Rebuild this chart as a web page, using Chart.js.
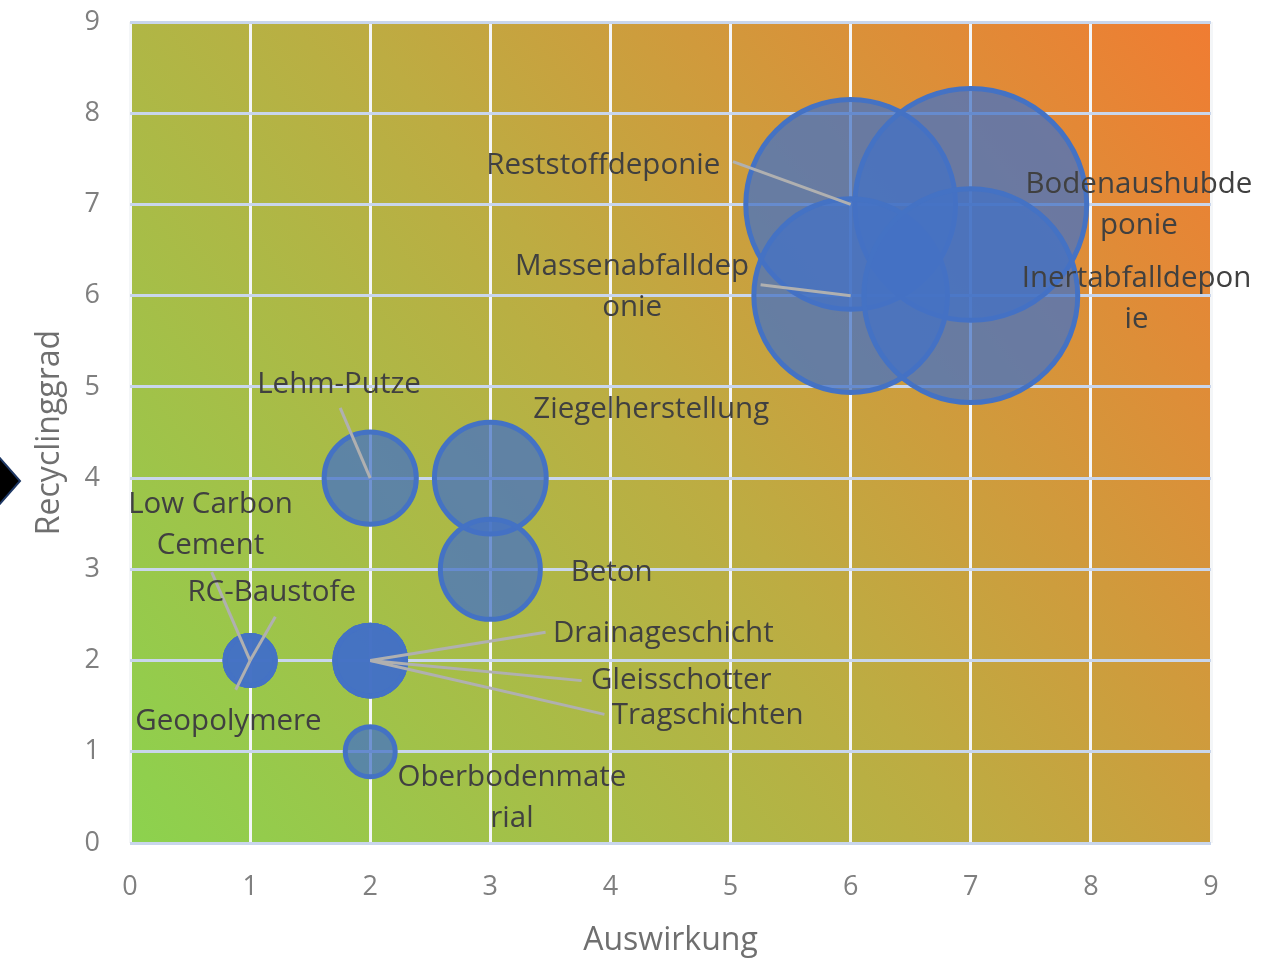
<!DOCTYPE html>
<html>
<head>
<meta charset="utf-8">
<script src="https://cdn.jsdelivr.net/npm/chart.js@4"></script>
<style>
  html, body { margin: 0; padding: 0; background: #fff; }
  #wrap { width: 1264px; height: 960px; }
</style>
</head>
<body>
<div id="wrap"><canvas id="chart" width="1264" height="960"></canvas></div>
<script>
// data
const names = ['Reststoffdeponie', 'Bodenaushubdeponie', 'Massenabfalldeponie', 'Inertabfalldeponie',
    'Lehm-Putze', 'Ziegelherstellung', 'Beton', 'Low Carbon Cement', 'RC-Baustofe', 'Geopolymere',
    'Drainageschicht', 'Gleisschotter', 'Tragschichten', 'Oberbodenmaterial'];
const auswirkung = [6, 7, 6, 7, 2, 3, 3, 1, 1, 1, 2, 2, 2, 2];
const recyclinggrad = [7, 7, 6, 6, 4, 4, 3, 2, 2, 2, 2, 2, 2, 1];
const bubbleSize = [17.6, 21.5, 15, 18.3, 3.4, 5, 4, 1, 1, 1, 2, 2, 2, 1];
const axisTicks = [0, 1, 2, 3, 4, 5, 6, 7, 8, 9];

// label placement (in axis units): text centre and optional leader start
const labelLayout = [
    { lines: ['Reststoffdeponie'], x: 3.94, y: 7.43, lx: 5.02, ly: 7.47 },
    { lines: ['Bodenaushubde', 'ponie'], x: 8.40, y: 6.99 },
    { lines: ['Massenabfalldep', 'onie'], x: 4.18, y: 6.09, lx: 5.25, ly: 6.12 },
    { lines: ['Inertabfalldepon', 'ie'], x: 8.38, y: 5.96 },
    { lines: ['Lehm-Putze'], x: 1.74, y: 5.03, lx: 1.75, ly: 4.77 },
    { lines: ['Ziegelherstellung'], x: 4.34, y: 4.75 },
    { lines: ['Beton'], x: 4.01, y: 2.96 },
    { lines: ['Low Carbon', 'Cement'], x: 0.67, y: 3.49, lx: 0.68, ly: 2.97 },
    { lines: ['RC-Baustofe'], x: 1.18, y: 2.75, lx: 1.21, ly: 2.48 },
    { lines: ['Geopolymere'], x: 0.82, y: 1.33, lx: 0.88, ly: 1.68 },
    { lines: ['Drainageschicht'], x: 4.44, y: 2.30, lx: 3.46, ly: 2.31 },
    { lines: ['Gleisschotter'], x: 4.59, y: 1.78, lx: 3.76, ly: 1.78 },
    { lines: ['Tragschichten'], x: 4.81, y: 1.40, lx: 3.95, ly: 1.41 },
    { lines: ['Oberbodenmate', 'rial'], x: 3.18, y: 0.49 },
];

const radiusScale = 25;
const points = names.map((n, i) => ({
    x: auswirkung[i],
    y: recyclinggrad[i],
    r: radiusScale * Math.sqrt(bubbleSize[i]),
}));

const gradientBackground = {
    id: 'gradientBackground',
    beforeDraw(chart) {
        const { ctx, chartArea: a } = chart;
        const g = ctx.createLinearGradient(a.left, a.bottom, a.right, a.top);
        g.addColorStop(0, '#8cd24e');
        g.addColorStop(0.5, '#bdac42');
        g.addColorStop(1, '#f07c32');
        ctx.save();
        ctx.fillStyle = g;
        ctx.fillRect(a.left, a.top, a.right - a.left, a.bottom - a.top);
        ctx.restore();
    },
};

const bubbleLabels = {
    id: 'bubbleLabels',
    afterDatasetsDraw(chart) {
        const { ctx, scales: { x, y } } = chart;
        ctx.save();
        ctx.strokeStyle = '#b0b0b0';
        ctx.lineWidth = 3;
        labelLayout.forEach((l, i) => {
            if (l.lx === undefined) return;
            ctx.beginPath();
            ctx.moveTo(x.getPixelForValue(l.lx), y.getPixelForValue(l.ly));
            ctx.lineTo(x.getPixelForValue(auswirkung[i]), y.getPixelForValue(recyclinggrad[i]));
            ctx.stroke();
        });
        ctx.font = '29.5px "Open Sans"';
        ctx.fillStyle = '#404040';
        ctx.textAlign = 'center';
        ctx.textBaseline = 'middle';
        const lh = 41;
        labelLayout.forEach(l => {
            const cx = x.getPixelForValue(l.x);
            const cy = y.getPixelForValue(l.y) - (l.lines.length - 1) * lh / 2;
            l.lines.forEach((t, k) => ctx.fillText(t, cx, cy + k * lh));
        });
        ctx.restore();
    },
    afterDraw(chart) {
        // the little black pointer at the left edge
        const { ctx } = chart;
        ctx.save();
        ctx.beginPath();
        ctx.moveTo(-2, 456);
        ctx.lineTo(20, 481);
        ctx.lineTo(-2, 506);
        ctx.closePath();
        ctx.fillStyle = '#000';
        ctx.fill();
        ctx.strokeStyle = '#1f3864';
        ctx.lineWidth = 2;
        ctx.stroke();
        ctx.restore();
    },
};

new Chart(document.getElementById('chart'), {
    type: 'bubble',
    data: {
        datasets: [{
            label: 'Recyclinggrad',
            data: points,
            backgroundColor: 'rgba(68, 114, 196, 0.75)',
            borderColor: '#4472c4',
            borderWidth: 5,
            hoverBorderWidth: 5,
        }],
    },
    options: {
        responsive: false,
        animation: false,
        clip: false,
        layout: { autoPadding: false, padding: { top: 22, right: 53, left: 0, bottom: 0 } },
        plugins: {
            legend: { display: false },
            tooltip: { enabled: false },
        },
        scales: {
            x: {
                type: 'linear',
                min: 0,
                max: 9,
                afterFit(scale) { scale.height = 117; scale.paddingLeft = 0; scale.paddingRight = 0; },
                afterBuildTicks(scale) { scale.ticks = axisTicks.map(v => ({ value: v })); },
                border: { display: false },
                grid: { color: '#f4f6f8', lineWidth: 3, drawTicks: false },
                ticks: { padding: 28, color: '#7f7f7f', font: { family: 'Open Sans', size: 27 } },
                title: {
                    display: true,
                    text: 'Auswirkung',
                    color: '#6f6f6f',
                    font: { family: 'Open Sans', size: 32 },
                    padding: { top: 0, bottom: 0 },
                },
            },
            y: {
                type: 'linear',
                min: 0,
                max: 9,
                afterFit(scale) { scale.width = 130; scale.paddingTop = 0; scale.paddingBottom = 0; },
                afterBuildTicks(scale) { scale.ticks = axisTicks.map(v => ({ value: v })); },
                border: { display: false },
                grid: { color: '#c9d6ec', lineWidth: 3, drawTicks: false },
                ticks: { padding: 30, color: '#7f7f7f', font: { family: 'Open Sans', size: 27 } },
                title: {
                    display: true,
                    text: 'Recyclinggrad',
                    color: '#6f6f6f',
                    font: { family: 'Open Sans', size: 32 },
                    padding: { top: 31, bottom: 0 },
                },
            },
        },
    },
    plugins: [gradientBackground, bubbleLabels],
});
</script>
</body>
</html>
